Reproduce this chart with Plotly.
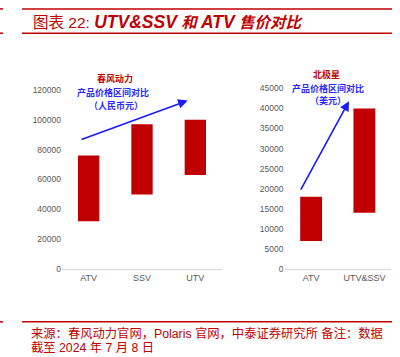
import plotly.graph_objects as go

# Left chart: CFMOTO price range (RMB)
cf_categories = ["ATV", "SSV", "UTV"]
cf_low = [32000, 50000, 63000]
cf_high = [76000, 97000, 100000]
cf_ticks = [0, 20000, 40000, 60000, 80000, 100000, 120000]

# Right chart: Polaris price range (USD)
pol_categories = ["ATV", "UTV&SSV"]
pol_low = [7000, 14000]
pol_high = [18000, 40000]
pol_ticks = [0, 5000, 10000, 15000, 20000, 25000, 30000, 35000, 40000, 45000]

BAR = "#C00000"
RED = "#C00000"
BLUE = "#2a2aff"
GRAY = "#595959"
FONT = "Liberation Sans, Arial, sans-serif"
CJK = "Noto Sans CJK SC, sans-serif"

fig = go.Figure()
fig.add_trace(go.Bar(x=cf_categories, y=[h - l for h, l in zip(cf_high, cf_low)], base=cf_low,
                     marker=dict(color=BAR, line=dict(width=0)), width=0.4, xaxis="x", yaxis="y"))
fig.add_trace(go.Bar(x=pol_categories, y=[h - l for h, l in zip(pol_high, pol_low)], base=pol_low,
                     marker=dict(color=BAR, line=dict(width=0)), width=0.41, xaxis="x2", yaxis="y2"))

y0 = 1 - 271.7 / 357
axis_common = dict(showgrid=False, zeroline=False, ticks="", fixedrange=True)
fig.update_layout(
    width=400, height=357,
    margin=dict(l=0, r=0, t=0, b=0),
    paper_bgcolor="white", plot_bgcolor="white",
    showlegend=False,
    font=dict(family=FONT, color=GRAY),
    xaxis=dict(domain=[62 / 400, 222 / 400], anchor="y", showline=True, linecolor="#d9d9d9", linewidth=1,
               tickfont=dict(size=9, color=GRAY), **axis_common),
    yaxis=dict(domain=[y0, 1 - 87.3 / 357], anchor="x", range=[0, 120000], tickvals=cf_ticks,
               ticktext=[str(v) for v in cf_ticks], showline=False,
               tickfont=dict(size=8.5, color=GRAY), **axis_common),
    xaxis2=dict(domain=[284.5 / 400, 391 / 400], anchor="y2", showline=True, linecolor="#d9d9d9", linewidth=1,
                tickfont=dict(size=9, color=GRAY), **axis_common),
    yaxis2=dict(domain=[y0, 1 - 85.7 / 357], anchor="x2", range=[0, 45000], tickvals=pol_ticks,
                ticktext=[str(v) for v in pol_ticks], showline=False,
                tickfont=dict(size=8.5, color=GRAY), **axis_common),
)

def px(x):
    return x / 400

def py(y):
    return 1 - y / 357

shapes = []
for yy in (4, 29, 326):
    shapes.append(dict(type="line", xref="paper", yref="paper", x0=px(22), x1=px(392), y0=py(yy), y1=py(yy),
                       line=dict(color=RED, width=1.5)))
    shapes.append(dict(type="line", xref="paper", yref="paper", x0=0, x1=px(3), y0=py(yy), y1=py(yy),
                       line=dict(color=RED, width=1.5)))
fig.update_layout(shapes=shapes)

ann = []
ann.append(dict(xref="paper", yref="paper", x=px(31), y=py(17), xanchor="left", yanchor="middle", showarrow=False,
                text="图表 22: <b><i><span style='font-size:17.5px'>UTV&amp;SSV</span> 和 "
                     "<span style='font-size:17.5px'>ATV</span> 售价对比</i></b>",
                font=dict(family="Liberation Sans, Noto Sans CJK SC", size=15.5, color=RED)))
ann.append(dict(xref="paper", yref="paper", x=px(29), y=py(338), xanchor="left", yanchor="middle", showarrow=False,
                text="来源：春风动力官网，Polaris 官网，中泰证券研究所 备注：数据",
                font=dict(family="Liberation Sans, Noto Sans CJK SC", size=12.3, color=RED)))
ann.append(dict(xref="paper", yref="paper", x=px(29), y=py(353), xanchor="left", yanchor="middle", showarrow=False,
                text="截至 2024 年 7 月 8 日",
                font=dict(family="Liberation Sans, Noto Sans CJK SC", size=12.3, color=RED)))

def label(xc, yc, text, color):
    ann.append(dict(xref="paper", yref="paper", x=px(xc), y=py(yc), xanchor="center", yanchor="middle",
                    showarrow=False, text="<b>" + text + "</b>", font=dict(family=CJK, size=9, color=color)))

label(115, 75.5, "春风动力", RED)
label(112.5, 90.3, "产品价格区间对比", BLUE)
label(116, 103.3, "（人民币元）", BLUE)
label(326.7, 72, "北极星", RED)
label(327.5, 85.5, "产品价格区间对比", BLUE)
label(328, 98.5, "（美元）", BLUE)

def arrow(x0, y0_, x1, y1):
    ann.append(dict(xref="paper", yref="paper", axref="pixel", ayref="pixel",
                    x=px(x1), y=py(y1), ax=x0 - x1, ay=y0_ - y1, text="", showarrow=True,
                    arrowhead=2, arrowsize=1.2, arrowwidth=1.6, arrowcolor="#1a1aff"))

arrow(80, 137.7, 187.7, 98.3)
arrow(300, 189, 349, 99)
fig.update_layout(annotations=ann)

fig.write_html("out.html", config={"displayModeBar": False},
               post_script="document.body.style.margin='0';document.body.style.overflow='hidden';")
